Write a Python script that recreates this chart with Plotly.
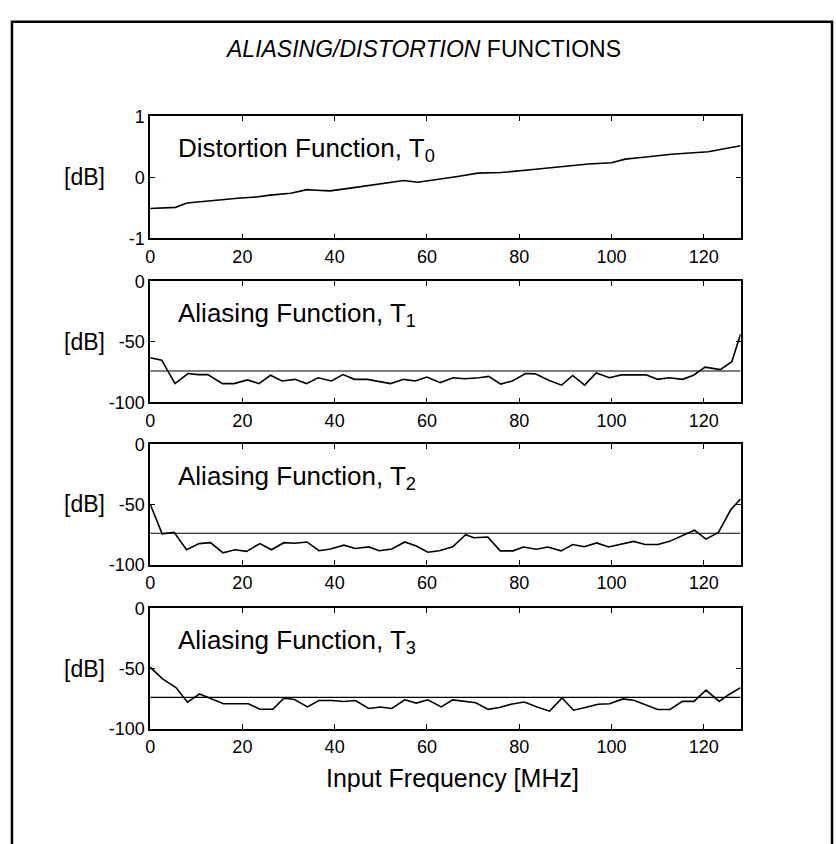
import plotly.graph_objects as go

# ---------------- data ----------------
t0_f = [0, 5.5, 8, 13, 19, 23, 26, 30.5, 34, 36, 39, 43, 49, 55, 58, 61, 67, 71, 76,
        83, 89, 95, 100, 103, 107, 113, 121, 128]
t0_db = [-0.51, -0.49, -0.42, -0.38, -0.34, -0.32, -0.29, -0.26, -0.20, -0.21, -0.22,
         -0.18, -0.11, -0.05, -0.08, -0.05, 0.02, 0.07, 0.08, 0.13, 0.18, 0.22, 0.24,
         0.30, 0.33, 0.38, 0.42, 0.52]

t1_f = [0, 2.5, 5.4, 8.2, 10.4, 12.5, 15.7, 18.2, 21.1, 23.6, 26.1, 28.6, 31.4, 33.9,
        36.4, 39.3, 41.8, 44.3, 47.1, 52.1, 55, 57.5, 60, 62.9, 65.7, 68.2, 71.3, 73.4,
        76, 78.5, 81.4, 83.5, 86.4, 89.2, 91.6, 94.2, 96.7, 99.6, 102.1, 107.5, 110,
        112.5, 115.4, 117.8, 120.3, 123.6, 126.1, 127.2, 128]
t1_db = [-63, -65, -84.4, -76.1, -77, -77, -84.4, -84.4, -81.4, -84.4, -77.5, -82.2,
         -80.9, -84.4, -79.6, -82.2, -77, -80.9, -80.9, -84.4, -80.9, -82.2, -79,
         -83.6, -79.6, -80.4, -79.6, -78.5, -84.8, -82.2, -76.1, -76.4, -81.7, -85.7,
         -77.7, -85.7, -75.6, -79.6, -77.2, -77.2, -80.9, -79.6, -80.9, -77.5, -70.8,
         -72.9, -66.3, -53, -43.5]

t2_f = [0, 2.6, 5.2, 7.9, 10.6, 13.1, 15.8, 18.4, 20.9, 23.8, 26.3, 29, 31.3, 34,
        36.6, 39.1, 42, 44.5, 47.4, 49.7, 52.4, 55.2, 57.7, 60.2, 62.7, 65.6, 68.4,
        70.2, 73.2, 75.9, 78.7, 80.9, 83.7, 86.2, 89.1, 91.6, 94.1, 96.8, 99.4, 101.9,
        104.8, 107.3, 110.1, 112.6, 115.1, 118, 120.5, 123.2, 125.9, 128]
t2_db = [-49.6, -74.5, -73.2, -87.7, -82.6, -81.8, -90.3, -87.7, -89, -82.6, -87.7,
         -81.8, -82.3, -81.2, -88.5, -87.1, -83.9, -86.6, -85.3, -88.5, -87.1, -81.2,
         -84.5, -89.8, -88.5, -85.3, -75.1, -77.7, -77.1, -88.6, -88.6, -85.4, -87.3,
         -85.4, -88.6, -83.3, -85.2, -82, -85.4, -83.3, -80.7, -83.3, -83.3, -80.7,
         -76.7, -71.4, -78.8, -73.3, -54.2, -45.5]

t3_f = [0, 2.7, 5.6, 8.1, 10.7, 12.7, 15.9, 18.4, 21.3, 23.8, 26.6, 29, 31.3, 34.1,
        36.6, 39.5, 42, 44.5, 47.4, 49.9, 52.4, 55.2, 57.7, 60.2, 63.1, 65.6, 68.1,
        70.6, 73.3, 75.7, 78.2, 81.1, 83.9, 86.6, 89.3, 91.8, 94.3, 97.1, 99.6, 102.5,
        105, 107.5, 110, 112.7, 115.4, 117.9, 120.5, 123.4, 125.4, 128]
t3_db = [-48.9, -58.6, -65.9, -78, -71.2, -74.5, -79.3, -79.3, -79.3, -83.9, -83.9,
         -74.7, -75.8, -82, -76.6, -76.6, -77.4, -76.6, -83.3, -82, -83.3, -76.1,
         -78.8, -76.1, -82, -76.1, -77.2, -78.5, -84, -82.5, -79.8, -77.9, -82, -85.5,
         -74.5, -84.7, -82.5, -79.8, -79.3, -75.3, -76.6, -80.6, -84.1, -84.1, -77.4,
         -77.4, -68, -77.4, -71.8, -65.9]

ref_level = -74
x_ticks = [0, 20, 40, 60, 80, 100, 120]
x_ticktext = ["0", "20", "40", "60", "80", "100", "120"]
y_ticks_t0 = [-1, 0, 1]
y_ticktext_t0 = ["-1", "0", "1"]
y_ticks_alias = [-100, -50, 0]
y_ticktext_alias = ["-100", "-50", "0"]
labels = ["Distortion Function, T<sub>0</sub>", "Aliasing Function, T<sub>1</sub>",
          "Aliasing Function, T<sub>2</sub>", "Aliasing Function, T<sub>3</sub>"]
title_html = "<i>ALIASING/DISTORTION</i> FUNCTIONS"
xlabel = "Input Frequency [MHz]"

# ---------------- layout geometry (pixels) ----------------
W, H = 836, 844
X0, X1 = 146, 740
rows = [(109, 234), (278, 402), (445, 568), (613, 736)]
FONT = "Liberation Sans, Arial, sans-serif"

fig = go.Figure()
series = [(t0_f, t0_db), (t1_f, t1_db), (t2_f, t2_db), (t3_f, t3_db)]
for i, (fx, fy) in enumerate(series):
    ax = "" if i == 0 else str(i + 1)
    fig.add_trace(go.Scatter(x=fx, y=fy, mode="lines", line=dict(color="black", width=1.6),
                             xaxis="x" + ax, yaxis="y" + ax, showlegend=False,
                             hoverinfo="skip"))
    if i > 0:
        fig.add_trace(go.Scatter(x=[0, 128], y=[ref_level, ref_level], mode="lines",
                                 line=dict(color="black", width=1.1),
                                 xaxis="x" + ax, yaxis="y" + ax, showlegend=False,
                                 hoverinfo="skip"))

layout = dict(width=W, height=H, autosize=False, margin=dict(l=0, r=0, t=0, b=0),
              paper_bgcolor="white", plot_bgcolor="white",
              font=dict(family=FONT, color="black", size=18))
annotations = []
for i, (top, bot) in enumerate(rows):
    ax = "" if i == 0 else str(i + 1)
    yr = [-1, 1] if i == 0 else [-100, 0]
    yt = y_ticks_t0 if i == 0 else y_ticks_alias
    ytt = y_ticktext_t0 if i == 0 else y_ticktext_alias
    layout["xaxis" + ax] = dict(domain=[X0 / W, X1 / W], range=[0, 128],
                                anchor="y" + ax, tickvals=x_ticks, ticktext=x_ticktext,
                                ticks="inside", ticklen=5, tickwidth=1.2,
                                tickcolor="black", showline=True, linecolor="black",
                                linewidth=1.6, mirror="ticks", showgrid=False,
                                zeroline=False, tickfont=dict(size=18),
                                ticklabelstandoff=1)
    layout["yaxis" + ax] = dict(domain=[1 - bot / H, 1 - top / H], range=yr,
                                anchor="x" + ax, tickvals=yt, ticktext=ytt,
                                ticks="inside", ticklen=5, tickwidth=1.2,
                                tickcolor="black", showline=True, linecolor="black",
                                linewidth=1.6, mirror="ticks", showgrid=False,
                                zeroline=False, tickfont=dict(size=18),
                                ticklabelstandoff=0)
    annotations.append(dict(text=labels[i], xref="paper", yref="paper",
                            x=172 / W, y=1 - (top + 34) / H, xanchor="left",
                            yanchor="middle", showarrow=False,
                            font=dict(size=26, family=FONT)))
    mid = 0 if i == 0 else -50
    annotations.append(dict(text="[dB]", xref="paper", yref="y" + ax, x=80 / W, y=mid,
                            xanchor="center", yanchor="middle", showarrow=False,
                            font=dict(size=23, family=FONT)))

annotations.append(dict(text=title_html, xref="paper", yref="paper", x=421 / W,
                        y=1 - 40 / H, xanchor="center", yanchor="middle",
                        showarrow=False, font=dict(size=23, family=FONT)))
annotations.append(dict(text=xlabel, xref="paper", yref="paper", x=450 / W,
                        y=1 - 787 / H, xanchor="center", yanchor="middle",
                        showarrow=False, font=dict(size=25, family=FONT)))
layout["annotations"] = annotations
layout["shapes"] = [dict(type="rect", xref="paper", yref="paper", x0=7 / W, x1=832 / W,
                         y0=-0.05, y1=1 - 12 / H, line=dict(color="black", width=2.5))]
fig.update_layout(**layout)
fig.write_html("out.html")
